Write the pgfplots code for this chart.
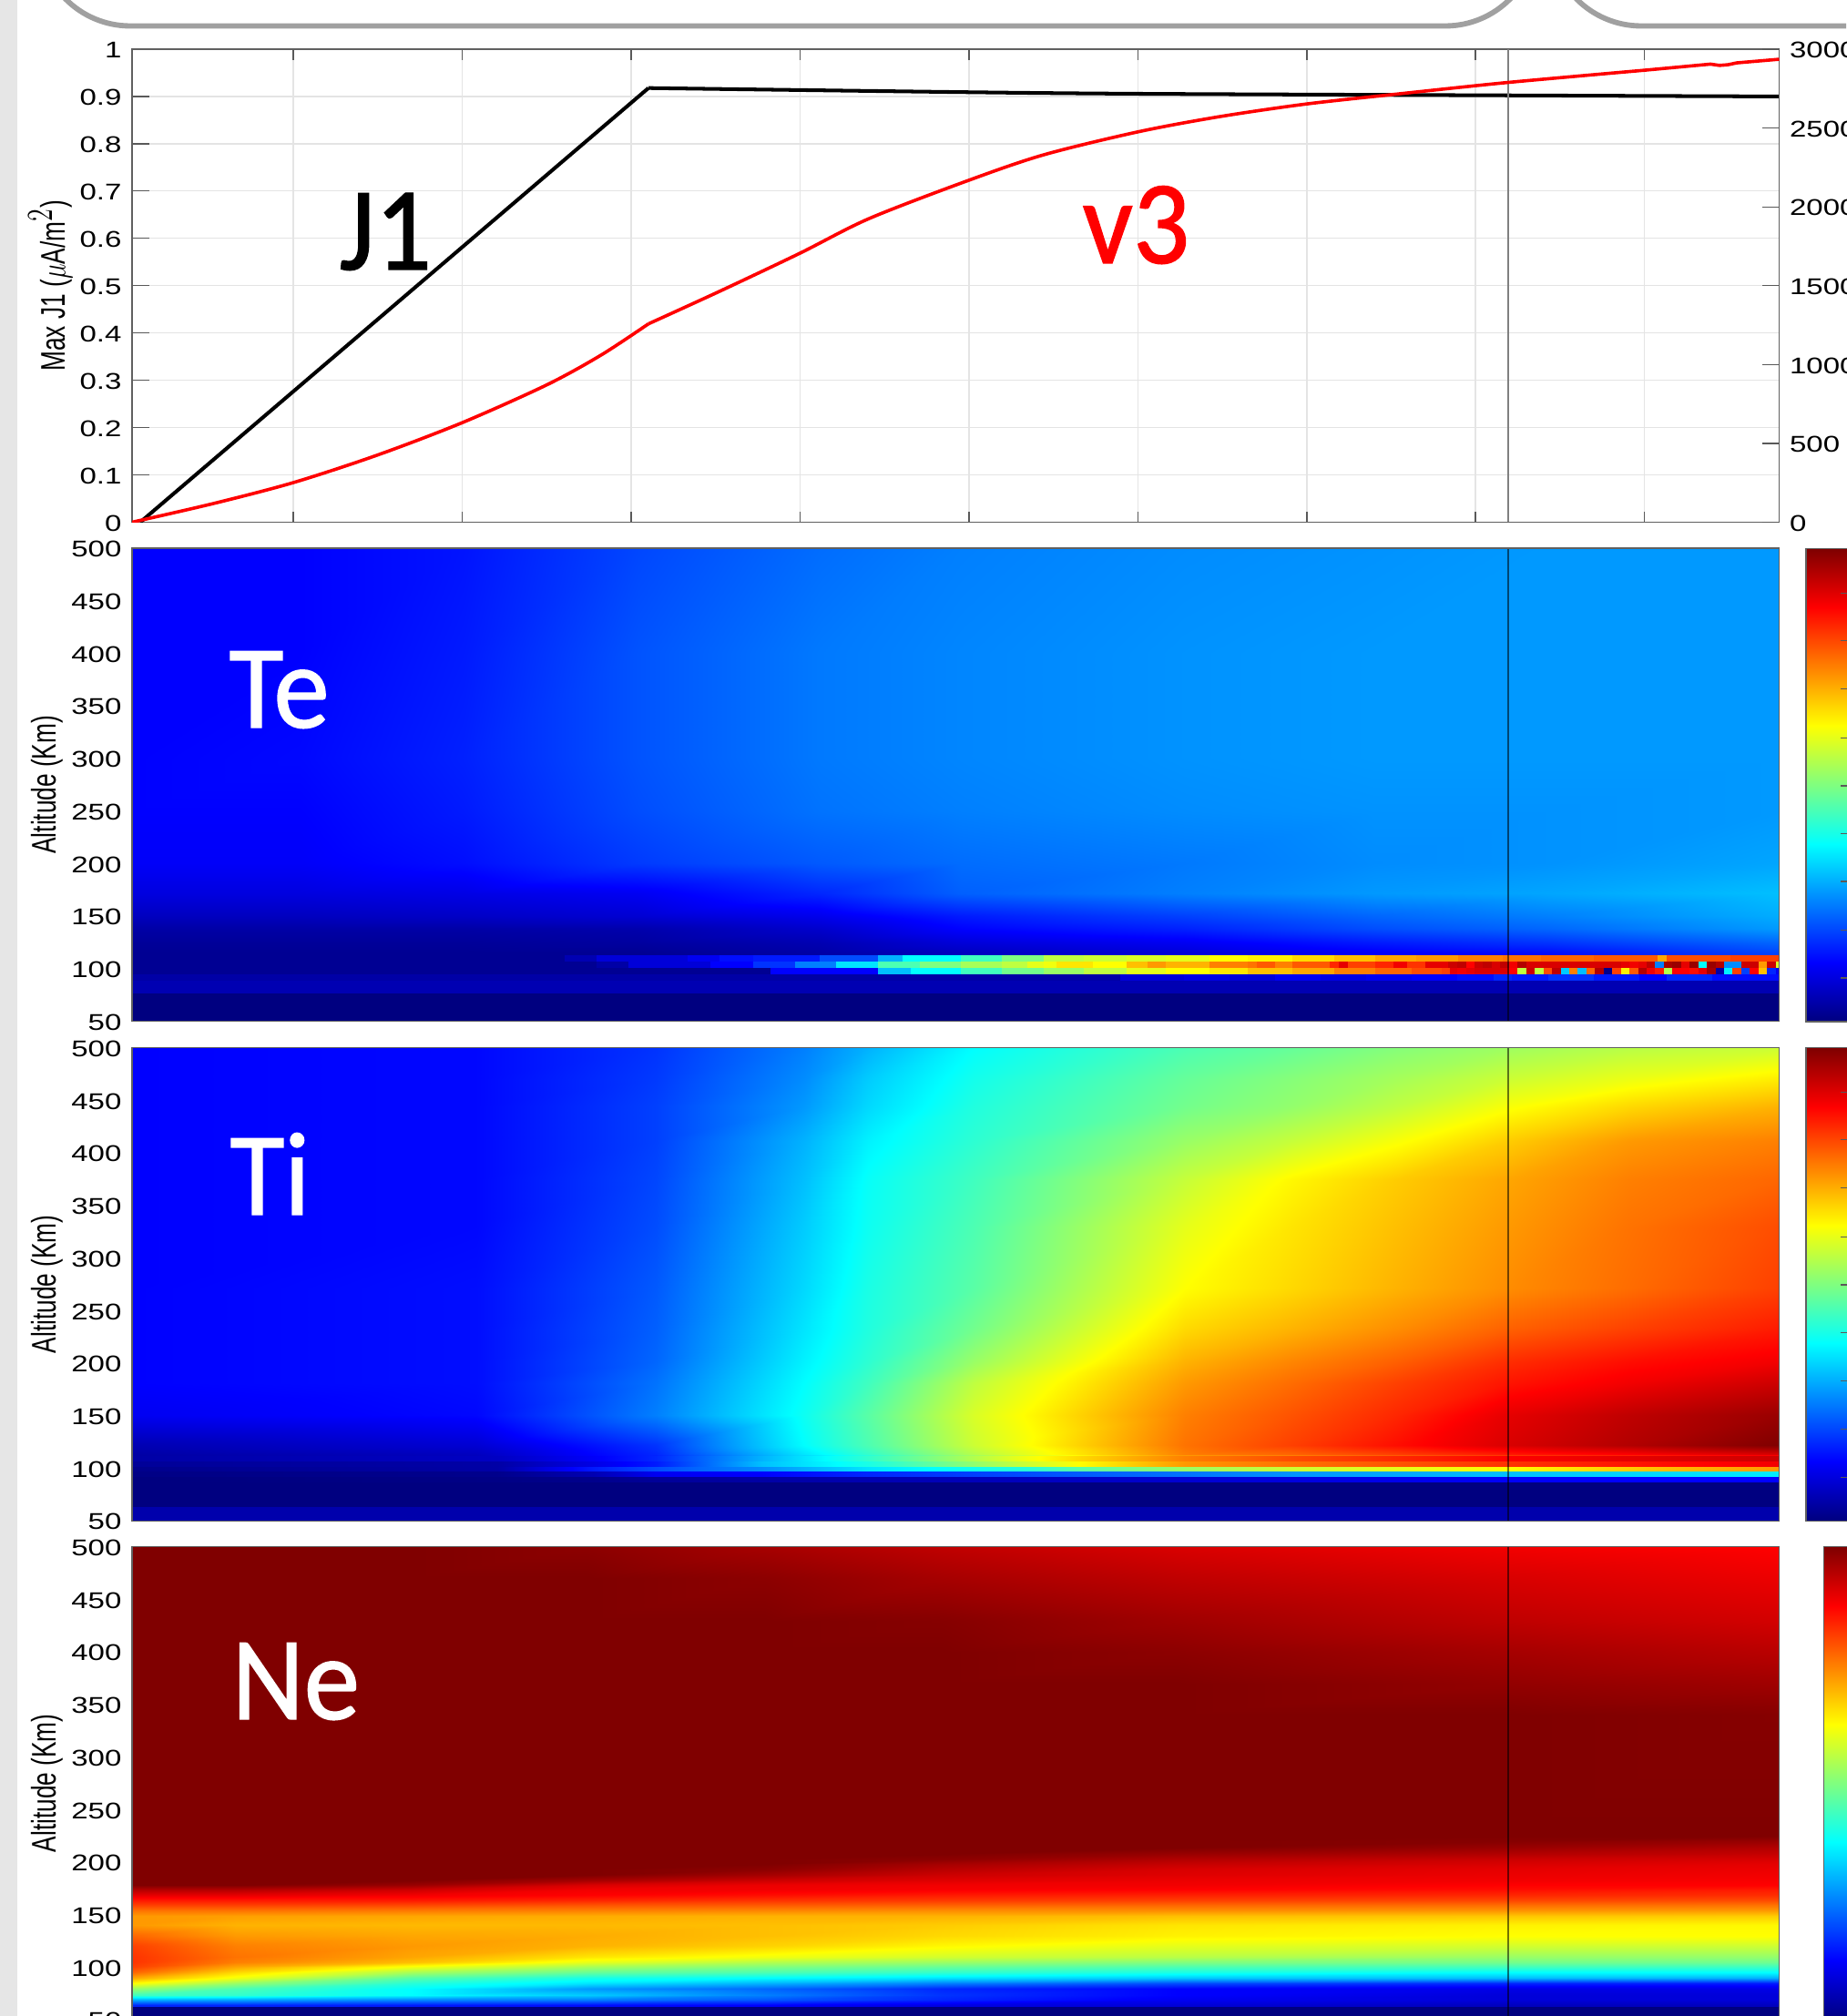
\documentclass[border=0pt]{standalone}
\usepackage{graphicx}
\usepackage{fontspec}
\usepackage{pgfplots}
\pgfplotsset{compat=1.18}
\setmainfont{Liberation Sans}
\newfontfamily\fTick[FakeStretch=1.32]{Liberation Sans}
\newfontfamily\fLabel[FakeStretch=0.7]{Liberation Sans}
\newfontfamily\fBig[FakeStretch=0.94,FakeBold=1]{Carlito}
\def\u{0.36pt}
\definecolor{boxgray}{HTML}{A0A0A0}
\definecolor{stripgray}{HTML}{E6E6E6}
\definecolor{gridgray}{HTML}{E4E4E4}
\definecolor{framegray}{HTML}{606060}
\pgfplotsset{
  colormap={jetm}{rgb(0cm)=(0,0,.5); rgb(1cm)=(0,0,1); rgb(3cm)=(0,1,1); rgb(5cm)=(1,1,0); rgb(7cm)=(1,0,0); rgb(8cm)=(.5,0,0)},
  base/.style={scale only axis, width=651.06pt, height=187.02pt, anchor=north west,
    xmin=145, xmax=1953.5,
    axis line style={framegray, line width=.5pt},
    tick style={black!65, line width=.45pt},
    yticklabel style={font=\fontsize{9}{11}\selectfont\fTick, inner sep=0pt, yshift=-.4pt, /pgf/number format/assume math mode=true, /pgf/number format/1000 sep={}},
    scaled y ticks=false},
  heat/.style={base, xtick=\empty, ymin=50, ymax=500, ytick={50,100,...,500}, major tick length=0pt,
    colormap name=jetm, point meta min=0, point meta max=80,
    yticklabel style={xshift=-3.96pt},
    ylabel={\fontsize{13.5}{16}\selectfont\fLabel Altitude (Km)},
    ylabel style={at={(axis description cs:-0.0515,0.5)}, anchor=center}, axis on top},
  sf/.style={surf, shader=interp, mesh/cols=#1, point meta=explicit, forget plot},
  band/.style={mesh, shader=flat corner, line width=2.5pt, line cap=butt, point meta=explicit, forget plot},
  vmark/.style={black, opacity=.55, line width=.55pt, forget plot},
  cbar/.style={scale only axis, height=187.02pt, anchor=north west, xmin=0, xmax=1, ymin=0, ymax=80,
    xtick=\empty, colormap name=jetm, point meta min=0, point meta max=80,
    axis line style={framegray, line width=.5pt}, yticklabels={}, axis on top,
    tick style={black!65, line width=.45pt}},
}
\begin{document}
\begin{tikzpicture}
\path[use as bounding box] (0,0) rectangle (2027*\u,-2214*\u);
\fill[white] (0,0) rectangle (2027*\u,-2214*\u);
\fill[stripgray] (0,0) rectangle (19*\u,-2214*\u);
\begin{scope}
\clip (0,0) rectangle (2027*\u,-2214*\u);
\draw[boxgray, line width=2.1pt, rounded corners=36pt] (43*\u,150*\u) rectangle (1687*\u,-28.5*\u);
\draw[boxgray, line width=2.1pt, rounded corners=36pt] (1702*\u,150*\u) rectangle (2400*\u,-28.5*\u);
\end{scope}

% ---------- top panel: x ticks and grid
\begin{axis}[base, at={(145*\u,-54*\u)}, ymin=0, ymax=1, ytick=\empty,
  xtick={322,507.5,693,878.5,1064,1249.5,1435,1620,1805.5}, xticklabels={}, major tick length=4.3pt,
  xmajorgrids, grid style={gridgray, line width=.45pt}]
\addplot[draw=none, forget plot] coordinates {(145,0)(1953,1)};
\end{axis}
% ---------- J1
\begin{axis}[base, at={(145*\u,-54*\u)}, ymin=0, ymax=1, xtick=\empty,
  ytick={0,0.1,...,1}, yticklabels={0,0.1,0.2,0.3,0.4,0.5,0.6,0.7,0.8,0.9,1}, ytick pos=left, major tick length=6.8pt,
  ymajorgrids, grid style={gridgray, line width=.45pt},
  yticklabel style={xshift=-3.96pt},
  ylabel={\fontsize{13.5}{16}\selectfont\fLabel Max J1 (\scalebox{0.7}[1]{$\mu$}A/m$^{\scalebox{0.7}[1]{$2$}}$)},
  ylabel style={at={(axis description cs:-0.0495,0.5)}, anchor=center}]
\addplot[black, line width=1.45pt, forget plot] coordinates {(154,0)(712,0.9178)};
\addplot[black, line width=1.45pt, smooth, forget plot] coordinates {(712,0.9178)(1063,0.909)(1249,0.9057)(1540,0.9032)(1953.5,0.900)};
\addplot[black!50, line width=.5pt, forget plot] coordinates {(1656,0)(1656,1)};
\end{axis}
% ---------- v3
\begin{axis}[base, at={(145*\u,-54*\u)}, ymin=0, ymax=3000, hide x axis, axis y line*=right,
  ytick={0,500,...,3000}, major tick length=6.8pt,
  yticklabel style={anchor=west, xshift=3.96pt}]
\addplot[red, line width=1.3pt, smooth, forget plot] coordinates {(145,0)(234,118)(322,251)(414,425)(507,630)(600,870)(660,1060)(712,1258)};
\addplot[red, line width=1.3pt, smooth, forget plot] coordinates {(712,1258)(790,1464)(878,1705)(954,1925)(1063,2167)(1146,2330)(1249,2475)(1338,2571)(1434,2652)(1540,2719)(1656,2789)(1805,2866)};
\addplot[red, line width=1.3pt, forget plot] coordinates {(1805,2866)(1878,2905)(1888,2897)(1897,2901)(1907,2913)(1953.5,2936)};
\end{axis}

% ---------- Te
\begin{axis}[heat, at={(145*\u,-602*\u)}]
\addplot[sf=10] table[x=x,y=y,meta=m,row sep=\\]{x y m\\
145 500 10\\ 330 500 10\\ 510 500 11.5\\ 700 500 15.5\\ 900 500 18.5\\ 1055 500 20\\ 1300 500 21\\ 1510 500 21.5\\ 1700 500 22\\ 1953 500 22\\
145 400 10\\ 330 400 10\\ 510 400 12\\ 700 400 16.5\\ 900 400 19.5\\ 1055 400 20.5\\ 1300 400 21.5\\ 1510 400 22\\ 1700 400 22\\ 1953 400 22\\
145 300 10\\ 330 300 10.5\\ 510 300 12.5\\ 700 300 16.5\\ 900 300 19.5\\ 1055 300 20.5\\ 1300 300 21.5\\ 1510 300 22\\ 1700 300 22\\ 1953 300 22\\
145 250 10\\ 330 250 10\\ 510 250 12\\ 700 250 16\\ 900 250 19\\ 1055 250 20\\ 1300 250 21\\ 1510 250 21.5\\ 1700 250 21.5\\ 1953 250 22\\
145 200 9.5\\ 330 200 9.5\\ 510 200 11\\ 700 200 14.5\\ 900 200 17\\ 1055 200 18.5\\ 1300 200 19.5\\ 1510 200 21\\ 1700 200 21.5\\ 1953 200 23\\
145 172 7.5\\ 330 172 7.5\\ 510 172 8\\ 700 172 9\\ 900 172 13\\ 1055 172 17.5\\ 1300 172 20\\ 1510 172 22\\ 1700 172 23\\ 1953 172 25\\
145 150 5\\ 330 150 5\\ 510 150 5.5\\ 700 150 6.5\\ 900 150 8.5\\ 1055 150 12\\ 1300 150 15\\ 1510 150 18\\ 1700 150 20\\ 1953 150 23.5\\
145 138 3\\ 330 138 3\\ 510 138 3\\ 700 138 3.5\\ 900 138 6\\ 1055 138 10\\ 1300 138 12.5\\ 1510 138 16\\ 1700 138 18\\ 1953 138 22\\
145 125 2\\ 330 125 2\\ 510 125 2\\ 700 125 2.5\\ 900 125 4\\ 1055 125 7\\ 1300 125 9\\ 1510 125 12\\ 1700 125 14\\ 1953 125 18\\
145 115 1.5\\ 330 115 1.5\\ 510 115 1.5\\ 700 115 1.5\\ 900 115 3\\ 1055 115 5\\ 1300 115 7\\ 1510 115 9.5\\ 1700 115 11\\ 1953 115 15.5\\
145 112 1.5\\ 330 112 1.5\\ 510 112 1.5\\ 700 112 1.5\\ 900 112 3\\ 1055 112 5\\ 1300 112 7\\ 1510 112 9\\ 1700 112 11\\ 1953 112 15\\
145 88.6 4\\ 330 88.6 4\\ 510 88.6 4\\ 700 88.6 4\\ 900 88.6 4\\ 1055 88.6 4\\ 1300 88.6 4\\ 1510 88.6 4\\ 1700 88.6 4\\ 1953 88.6 4\\
145 76.8 4\\ 330 76.8 4\\ 510 76.8 4\\ 700 76.8 4\\ 900 76.8 4\\ 1055 76.8 4\\ 1300 76.8 4\\ 1510 76.8 4\\ 1700 76.8 4\\ 1953 76.8 4\\
145 76.7 0\\ 330 76.7 0\\ 510 76.7 0\\ 700 76.7 0\\ 900 76.7 0\\ 1055 76.7 0\\ 1300 76.7 0\\ 1510 76.7 0\\ 1700 76.7 0\\ 1953 76.7 0\\
145 50 0\\ 330 50 0\\ 510 50 0\\ 700 50 0\\ 900 50 0\\ 1055 50 0\\ 1300 50 0\\ 1510 50 0\\ 1700 50 0\\ 1953 50 0\\
};
% bands
\addplot[band] table[x=x,y=y,meta=m,row sep=\\]{x y m\\
145 109.6 1.5\\ 620 109.6 4\\ 655 109.6 7\\ 755 109.6 9\\ 790 109.6 11\\ 827 109.6 12\\ 900 109.6 16\\ 964 109.6 24\\ 991 109.6 30\\ 1055 109.6 35\\ 1100 109.6 40\\ 1146 109.6 45\\ 1190 109.6 46\\ 1237 109.6 47\\ 1280 109.6 48\\ 1328 109.6 50\\ 1370 109.6 51\\ 1419 109.6 53\\ 1465 109.6 55\\ 1510 109.6 57\\ 1555 109.6 58\\ 1601 109.6 60\\ 1650 109.6 61\\ 1692 109.6 62\\ 1750 109.6 63\\ 1811 109.6 63\\ 1820 109.6 57\\ 1830 109.6 64\\ 1900 109.6 65\\ 1953.5 109.6 65\\
};
\addplot[band] table[x=x,y=y,meta=m,row sep=\\]{x y m\\
145 103.7 1.5\\ 655 103.7 3\\ 690 103.7 7\\ 780 103.7 10\\ 827 103.7 14\\ 873 103.7 20\\ 918 103.7 28\\ 964 103.7 36\\ 1010 103.7 40\\ 1055 103.7 43\\ 1100 103.7 45\\ 1128 103.7 48\\ 1146 103.7 49\\ 1160 103.7 52\\ 1182 103.7 52\\ 1200 103.7 50\\ 1237 103.7 55\\ 1260 103.7 58\\ 1280 103.7 56\\ 1328 103.7 60\\ 1370 103.7 61\\ 1380 103.7 63\\ 1400 103.7 60\\ 1419 103.7 63\\ 1460 103.7 67\\ 1470 103.7 72\\ 1480 103.7 65\\ 1510 103.7 67\\ 1530 103.7 71\\ 1545 103.7 66\\ 1565 103.7 72\\ 1590 103.7 74\\
1600 103.7 75\\ 1609.5 103.7 70\\ 1619 103.7 74\\ 1628 103.7 75\\ 1638 103.7 73\\ 1647 103.7 75\\ 1657 103.7 71\\ 1666 103.7 76\\ 1676 103.7 73\\ 1685 103.7 73\\ 1695 103.7 73\\ 1704 103.7 73\\ 1713.5 103.7 73\\ 1723 103.7 73\\ 1732 103.7 73\\ 1742 103.7 73\\ 1751 103.7 73\\ 1761 103.7 73\\ 1770 103.7 73\\ 1780 103.7 72\\ 1789 103.7 71\\ 1799 103.7 72\\ 1808 103.7 75\\ 1817 103.7 20\\ 1827 103.7 77\\ 1836 103.7 78\\ 1846 103.7 72\\ 1855 103.7 78\\ 1865 103.7 30\\ 1874 103.7 78\\ 1884 103.7 76\\ 1893 103.7 21\\ 1902 103.7 21\\ 1912 103.7 74\\ 1921 103.7 74\\ 1931 103.7 58\\ 1940 103.7 74\\ 1950 103.7 47\\ 1953.5 103.7 47\\
};
\addplot[band] table[x=x,y=y,meta=m,row sep=\\]{x y m\\
145 97.65 1.5\\ 846 97.65 10\\ 955 97.65 10\\ 964 97.65 25\\ 1000 97.65 30\\ 1055 97.65 35\\ 1100 97.65 39\\ 1146 97.65 42\\ 1190 97.65 45\\ 1237 97.65 48\\ 1280 97.65 50\\ 1328 97.65 52\\ 1370 97.65 55\\ 1419 97.65 57\\ 1465 97.65 60\\ 1510 97.65 62\\ 1550 97.65 64\\ 1583 97.65 65\\ 1592 97.65 72\\
1600 97.65 71\\ 1609.5 97.65 72\\ 1619 97.65 73\\ 1628 97.65 73\\ 1638 97.65 73\\ 1647 97.65 73\\ 1657 97.65 70\\ 1666 97.65 45\\ 1676 97.65 74\\ 1685 97.65 45\\ 1695 97.65 64\\ 1704 97.65 75\\ 1713.5 97.65 26\\ 1723 97.65 60\\ 1732 97.65 25\\ 1742 97.65 62\\ 1751 97.65 76\\ 1761 97.65 1\\ 1770 97.65 65\\ 1780 97.65 51\\ 1789 97.65 63\\ 1799 97.65 76\\ 1808 97.65 71\\ 1817 97.65 68\\ 1827 97.65 44\\ 1836 97.65 70\\ 1846 97.65 70\\ 1855 97.65 69\\ 1865 97.65 72\\ 1874 97.65 77\\ 1884 97.65 3\\ 1893 97.65 29\\ 1902 97.65 65\\ 1912 97.65 15\\ 1921 97.65 70\\ 1931 97.65 55\\ 1940 97.65 13\\ 1950 97.65 9\\ 1953.5 97.65 9\\
};
\addplot[band] table[x=x,y=y,meta=m,row sep=\\]{x y m\\
145 91.55 3\\ 1230 91.55 7\\ 1300 91.55 8\\ 1350 91.55 7\\ 1400 91.55 9\\ 1450 91.55 8\\ 1500 91.55 9\\ 1550 91.55 10\\ 1600 91.55 11\\ 1640 91.55 13\\ 1660 91.55 12\\ 1700 91.55 14\\ 1750 91.55 12\\ 1800 91.55 10\\ 1830 91.55 13\\ 1880 91.55 11\\ 1953.5 91.55 14\\
};
\addplot[vmark] coordinates {(1656,50)(1656,500)};
\end{axis}

% ---------- Ti
\begin{axis}[heat, at={(145*\u,-1150.7*\u)}]
\addplot[sf=12] table[x=x,y=y,meta=m,row sep=\\]{x y m\\
145 500 10\\ 523 500 10.5\\ 720 500 14\\ 883 500 20\\ 953 500 24\\ 1069 500 30\\ 1301 500 36\\ 1417 500 38\\ 1533 500 40.5\\ 1656 500 42.5\\ 1788 500 44.5\\ 1953 500 46\\
145 470 10\\ 523 470 10.5\\ 720 470 14.5\\ 883 470 21\\ 953 470 26\\ 1069 470 31.5\\ 1301 470 38\\ 1417 470 40.5\\ 1533 470 43\\ 1656 470 46\\ 1788 470 48.5\\ 1953 470 51.5\\
145 444 10\\ 523 444 10.5\\ 720 444 15\\ 883 444 22\\ 953 444 27\\ 1069 444 32.5\\ 1301 444 39\\ 1417 444 41.5\\ 1533 444 45\\ 1656 444 49.5\\ 1788 444 53\\ 1953 444 56\\
145 411 10\\ 523 411 10.5\\ 720 411 15\\ 883 411 24\\ 953 411 29\\ 1069 411 33.5\\ 1301 411 42\\ 1417 411 45.5\\ 1533 411 49.5\\ 1656 411 54\\ 1788 411 58\\ 1953 411 60\\
145 375 10\\ 523 375 10.5\\ 720 375 15.5\\ 883 375 25\\ 953 375 30.5\\ 1069 375 35\\ 1301 375 45.5\\ 1417 375 50.5\\ 1533 375 54\\ 1656 375 57\\ 1788 375 60\\ 1953 375 62\\
145 330 10\\ 523 330 10.5\\ 720 330 16\\ 883 330 26\\ 953 330 31\\ 1069 330 36\\ 1301 330 48\\ 1417 330 52\\ 1533 330 55\\ 1656 330 58\\ 1788 330 61\\ 1953 330 64\\
145 271 10\\ 523 271 11\\ 720 271 17\\ 883 271 27\\ 953 271 32\\ 1069 271 37\\ 1301 271 50\\ 1417 271 53\\ 1533 271 56\\ 1656 271 59\\ 1788 271 61.5\\ 1953 271 65\\
145 232 10\\ 523 232 11\\ 720 232 17.5\\ 883 232 28\\ 953 232 32.5\\ 1069 232 39\\ 1301 232 53\\ 1417 232 56\\ 1533 232 59\\ 1656 232 62.5\\ 1788 232 65\\ 1953 232 68\\
145 202 10\\ 523 202 11\\ 720 202 18\\ 883 202 29\\ 953 202 33.5\\ 1069 202 42\\ 1301 202 56\\ 1417 202 59.5\\ 1533 202 62.5\\ 1656 202 66.5\\ 1788 202 69\\ 1953 202 71\\
145 181 10\\ 523 181 11\\ 720 181 19\\ 883 181 30\\ 953 181 35\\ 1069 181 45\\ 1301 181 58\\ 1417 181 61.5\\ 1533 181 65\\ 1656 181 68.5\\ 1788 181 71\\ 1953 181 74\\
145 151 9\\ 523 151 10.5\\ 720 151 20\\ 883 151 31\\ 953 151 37\\ 1069 151 47\\ 1301 151 60\\ 1417 151 63.5\\ 1533 151 67\\ 1656 151 72\\ 1788 151 75\\ 1953 151 78\\
145 122 4\\ 523 122 6.5\\ 720 122 14\\ 883 122 30\\ 953 122 36\\ 1069 122 46\\ 1301 122 61\\ 1417 122 65\\ 1533 122 69\\ 1656 122 73\\ 1788 122 76\\ 1953 122 80\\
145 113 3\\ 523 113 5\\ 720 113 13\\ 883 113 28\\ 953 113 34\\ 1069 113 44\\ 1301 113 60\\ 1417 113 62\\ 1533 113 65\\ 1656 113 68\\ 1788 113 70\\ 1953 113 73\\
145 87 0\\ 523 87 0\\ 720 87 0\\ 883 87 0\\ 953 87 0\\ 1069 87 0\\ 1301 87 0\\ 1417 87 0\\ 1533 87 0\\ 1656 87 0\\ 1788 87 0\\ 1953 87 0\\
145 63 0\\ 523 63 0\\ 720 63 0\\ 883 63 0\\ 953 63 0\\ 1069 63 0\\ 1301 63 0\\ 1417 63 0\\ 1533 63 0\\ 1656 63 0\\ 1788 63 0\\ 1953 63 0\\
145 62.9 3.5\\ 523 62.9 3.5\\ 720 62.9 3.5\\ 883 62.9 3.5\\ 953 62.9 3.5\\ 1069 62.9 3.5\\ 1301 62.9 3.5\\ 1417 62.9 3.5\\ 1533 62.9 3.5\\ 1656 62.9 3.5\\ 1788 62.9 3.5\\ 1953 62.9 3.5\\
145 50 3.5\\ 523 50 3.5\\ 720 50 3.5\\ 883 50 3.5\\ 953 50 3.5\\ 1069 50 3.5\\ 1301 50 3.5\\ 1417 50 3.5\\ 1533 50 3.5\\ 1656 50 3.5\\ 1788 50 3.5\\ 1953 50 3.5\\
};
\addplot[sf=13] table[x=x,y=y,meta=m,row sep=\\]{x y m\\
145 111.6 3\\ 546 111.6 5.3\\ 651 111.6 9.5\\ 720 111.6 13\\ 836 111.6 24\\ 953 111.6 34\\ 1127 111.6 49\\ 1185 111.6 53\\ 1301 111.6 60\\ 1417 111.6 64\\ 1656 111.6 70\\ 1823 111.6 72.5\\ 1953.5 111.6 74\\
145 106.5 3\\ 546 106.5 5.3\\ 651 106.5 9.5\\ 720 106.5 13\\ 836 106.5 24\\ 953 106.5 34\\ 1127 106.5 49\\ 1185 106.5 53\\ 1301 106.5 60\\ 1417 106.5 64\\ 1656 106.5 70\\ 1823 106.5 72.5\\ 1953.5 106.5 74\\
145 106.4 2\\ 546 106.4 3\\ 651 106.4 8\\ 720 106.4 12\\ 836 106.4 25\\ 953 106.4 32\\ 1127 106.4 46\\ 1185 106.4 50\\ 1301 106.4 58\\ 1417 106.4 61\\ 1656 106.4 66\\ 1823 106.4 69\\ 1953.5 106.4 71\\
145 101.5 2\\ 546 101.5 3\\ 651 101.5 8\\ 720 101.5 12\\ 836 101.5 25\\ 953 101.5 32\\ 1127 101.5 46\\ 1185 101.5 50\\ 1301 101.5 58\\ 1417 101.5 61\\ 1656 101.5 66\\ 1823 101.5 69\\ 1953.5 101.5 71\\
145 101.4 1\\ 546 101.4 3\\ 651 101.4 12\\ 720 101.4 16\\ 836 101.4 21\\ 953 101.4 28\\ 1127 101.4 33\\ 1185 101.4 37\\ 1301 101.4 42\\ 1417 101.4 46\\ 1656 101.4 50\\ 1823 101.4 55\\ 1953.5 101.4 58\\
145 96.7 1\\ 546 96.7 3\\ 651 96.7 12\\ 720 96.7 16\\ 836 96.7 21\\ 953 96.7 28\\ 1127 96.7 33\\ 1185 96.7 37\\ 1301 96.7 42\\ 1417 96.7 46\\ 1656 96.7 50\\ 1823 96.7 55\\ 1953.5 96.7 58\\
145 96.6 0.5\\ 546 96.6 1\\ 651 96.6 4\\ 720 96.6 9\\ 836 96.6 10\\ 953 96.6 13\\ 1127 96.6 16\\ 1185 96.6 17\\ 1301 96.6 19\\ 1417 96.6 21.5\\ 1656 96.6 25\\ 1823 96.6 27\\ 1953.5 96.6 28.5\\
145 92 0.5\\ 546 92 1\\ 651 92 4\\ 720 92 9\\ 836 92 10\\ 953 92 13\\ 1127 92 16\\ 1185 92 17\\ 1301 92 19\\ 1417 92 21.5\\ 1656 92 25\\ 1823 92 27\\ 1953.5 92 28.5\\
145 91.9 0\\ 546 91.9 0.5\\ 651 91.9 1\\ 720 91.9 2\\ 836 91.9 3\\ 953 91.9 4\\ 1127 91.9 5\\ 1185 91.9 5.5\\ 1301 91.9 6.5\\ 1417 91.9 7.5\\ 1656 91.9 9.5\\ 1823 91.9 10\\ 1953.5 91.9 10\\
145 87 0\\ 546 87 0.5\\ 651 87 1\\ 720 87 2\\ 836 87 3\\ 953 87 4\\ 1127 87 5\\ 1185 87 5.5\\ 1301 87 6.5\\ 1417 87 7.5\\ 1656 87 9.5\\ 1823 87 10\\ 1953.5 87 10\\
};
\addplot[vmark] coordinates {(1656,50)(1656,500)};
\end{axis}

% ---------- Ne
\begin{axis}[heat, at={(145*\u,-1698.7*\u)}]
\addplot[sf=9] table[x=x,y=y,meta=m,row sep=\\]{x y m\\
145 500 80\\ 259 500 80\\ 452 500 80\\ 646 500 79\\ 840 500 77\\ 1034 500 75\\ 1293 500 73\\ 1657 500 71\\ 1953.5 500 70\\
145 470 80\\ 259 470 80\\ 452 470 80\\ 646 470 80\\ 840 470 79\\ 1034 470 77\\ 1293 470 75\\ 1657 470 73\\ 1953.5 470 71.5\\
145 430 80\\ 259 430 80\\ 452 430 80\\ 646 430 80\\ 840 430 80\\ 1034 430 79.5\\ 1293 430 77.5\\ 1657 430 75\\ 1953.5 430 73.5\\
145 400 80\\ 259 400 80\\ 452 400 80\\ 646 400 80\\ 840 400 80\\ 1034 400 80\\ 1293 400 79\\ 1657 400 77\\ 1953.5 400 75.5\\
145 370 80\\ 259 370 80\\ 452 370 80\\ 646 370 80\\ 840 370 80\\ 1034 370 80\\ 1293 370 80\\ 1657 370 78.5\\ 1953.5 370 77.5\\
145 340 80\\ 259 340 80\\ 452 340 80\\ 646 340 80\\ 840 340 80\\ 1034 340 80\\ 1293 340 80\\ 1657 340 80\\ 1953.5 340 79.5\\
145 225 80\\ 259 225 80\\ 452 225 80\\ 646 225 80\\ 840 225 80\\ 1034 225 80\\ 1293 225 80\\ 1657 225 80\\ 1953.5 225 80\\
145 220 80\\ 259 220 80\\ 452 220 80\\ 646 220 80\\ 840 220 80\\ 1034 220 80\\ 1293 220 80\\ 1657 220 79.5\\ 1953.5 220 78\\
145 214 80\\ 259 214 80\\ 452 214 80\\ 646 214 80\\ 840 214 80\\ 1034 214 80\\ 1293 214 80\\ 1657 214 78\\ 1953.5 214 76\\
145 208 80\\ 259 208 80\\ 452 208 80\\ 646 208 80\\ 840 208 80\\ 1034 208 80\\ 1293 208 78\\ 1657 208 76\\ 1953.5 208 74.5\\
145 203 80\\ 259 203 80\\ 452 203 80\\ 646 203 80\\ 840 203 80\\ 1034 203 79\\ 1293 203 76\\ 1657 203 74\\ 1953.5 203 73\\
145 198 80\\ 259 198 80\\ 452 198 80\\ 646 198 80\\ 840 198 80\\ 1034 198 77\\ 1293 198 74.5\\ 1657 198 73\\ 1953.5 198 72\\
145 193 80\\ 259 193 80\\ 452 193 80\\ 646 193 80\\ 840 193 79\\ 1034 193 75.5\\ 1293 193 73\\ 1657 193 72\\ 1953.5 193 71.5\\
145 188 80\\ 259 188 80\\ 452 188 80\\ 646 188 80\\ 840 188 77\\ 1034 188 74\\ 1293 188 72.5\\ 1657 188 71.5\\ 1953.5 188 71\\
145 183 80\\ 259 183 80\\ 452 183 80\\ 646 183 77\\ 840 183 74\\ 1034 183 72.5\\ 1293 183 71.5\\ 1657 183 71\\ 1953.5 183 70.5\\
145 178 80\\ 259 178 80\\ 452 178 78\\ 646 178 73\\ 840 178 71.5\\ 1034 178 71\\ 1293 178 71\\ 1657 178 70\\ 1953.5 178 70\\
145 174 76\\ 259 174 76\\ 452 174 74\\ 646 174 71\\ 840 174 71\\ 1034 174 70.5\\ 1293 174 70\\ 1657 174 69\\ 1953.5 174 68\\
145 169 72\\ 259 169 72\\ 452 169 71\\ 646 169 70\\ 840 169 69\\ 1034 169 68\\ 1293 169 67.5\\ 1657 169 67\\ 1953.5 169 66.5\\
145 164 68\\ 259 164 68\\ 452 164 68\\ 646 164 67\\ 840 164 66\\ 1034 164 65.5\\ 1293 164 65\\ 1657 164 64.5\\ 1953.5 164 64\\
145 159 65\\ 259 159 65\\ 452 159 64.5\\ 646 159 63.5\\ 840 159 63\\ 1034 159 62.5\\ 1293 159 62\\ 1657 159 61.5\\ 1953.5 159 61\\
145 154 61\\ 259 154 61\\ 452 154 60.5\\ 646 154 60\\ 840 154 59.5\\ 1034 154 59\\ 1293 154 59\\ 1657 154 58.5\\ 1953.5 154 58\\
145 149 58\\ 259 149 57.5\\ 452 149 57\\ 646 149 56.5\\ 840 149 56\\ 1034 149 56\\ 1293 149 55\\ 1657 149 54.5\\ 1953.5 149 54\\
145 140 58\\ 259 140 56\\ 452 140 55.5\\ 646 140 55.5\\ 840 140 55\\ 1034 140 54\\ 1293 140 52\\ 1657 140 51\\ 1953.5 140 50.5\\
145 130 62\\ 259 130 58\\ 452 130 57\\ 646 130 56.5\\ 840 130 55\\ 1034 130 53\\ 1293 130 51\\ 1657 130 50\\ 1953.5 130 50\\
145 120 65\\ 259 120 60\\ 452 120 58\\ 646 120 56\\ 840 120 53.5\\ 1034 120 50.5\\ 1293 120 48\\ 1657 120 46.5\\ 1953.5 120 46\\
145 110 66\\ 259 110 61\\ 452 110 57\\ 646 110 52\\ 840 110 49\\ 1034 110 46.5\\ 1293 110 44.5\\ 1657 110 42\\ 1953.5 110 41.5\\
145 105 66\\ 259 105 60\\ 452 105 55\\ 646 105 48\\ 840 105 44\\ 1034 105 42\\ 1293 105 40\\ 1657 105 39\\ 1953.5 105 38.5\\
145 100 65\\ 259 100 57\\ 452 100 49\\ 646 100 43\\ 840 100 40\\ 1034 100 38\\ 1293 100 36\\ 1657 100 35\\ 1953.5 100 34.5\\
145 95 62\\ 259 95 53\\ 452 95 43\\ 646 95 38\\ 840 95 36\\ 1034 95 34\\ 1293 95 32\\ 1657 95 30\\ 1953.5 95 30\\
145 90 57\\ 259 90 49\\ 452 90 37\\ 646 90 32\\ 840 90 30\\ 1034 90 28\\ 1293 90 26\\ 1657 90 25\\ 1953.5 90 24\\
145 85 50\\ 259 85 42\\ 452 85 33\\ 646 85 28\\ 840 85 24\\ 1034 85 20\\ 1293 85 16\\ 1657 85 13\\ 1953.5 85 12\\
145 80 42\\ 259 80 36\\ 452 80 30\\ 646 80 22\\ 840 80 18\\ 1034 80 13\\ 1293 80 10\\ 1657 80 8\\ 1953.5 80 8\\
145 74 35\\ 259 74 34\\ 452 74 30\\ 646 74 26\\ 840 74 20\\ 1034 74 14\\ 1293 74 10\\ 1657 74 7\\ 1953.5 74 7\\
145 69 24\\ 259 69 23\\ 452 69 21\\ 646 69 20\\ 840 69 17\\ 1034 69 13\\ 1293 69 9\\ 1657 69 7\\ 1953.5 69 7\\
145 64 13\\ 259 64 13\\ 452 64 12\\ 646 64 11\\ 840 64 10\\ 1034 64 8\\ 1293 64 7\\ 1657 64 5\\ 1953.5 64 5\\
145 62 13\\ 259 62 13\\ 452 62 12\\ 646 62 11\\ 840 62 10\\ 1034 62 8\\ 1293 62 7\\ 1657 62 5\\ 1953.5 62 5\\
145 61.9 0\\ 259 61.9 0\\ 452 61.9 0\\ 646 61.9 0\\ 840 61.9 0\\ 1034 61.9 0\\ 1293 61.9 0\\ 1657 61.9 0\\ 1953.5 61.9 0\\
145 50 0\\ 259 50 0\\ 452 50 0\\ 646 50 0\\ 840 50 0\\ 1034 50 0\\ 1293 50 0\\ 1657 50 0\\ 1953.5 50 0\\
};
\addplot[vmark] coordinates {(1656,50)(1656,500)};
\end{axis}

% ---------- colour bars
\begin{axis}[cbar, width=28.8pt, at={(1983*\u,-602.5*\u)}, ytick={7.4,15.5,23.7,31.8,39.9,48,56.3,64.5,72.5}, ytick pos=right, major tick length=15.1pt]
\addplot[sf=2] table[x=x,y=y,meta=m,row sep=\\]{x y m\\ 0 0 0\\ 1 0 0\\ 0 10 10\\ 1 10 10\\ 0 30 30\\ 1 30 30\\ 0 50 50\\ 1 50 50\\ 0 70 70\\ 1 70 70\\ 0 80 80\\ 1 80 80\\};
\end{axis}
\begin{axis}[cbar, width=28.8pt, at={(1983*\u,-1150.7*\u)}, ytick={7.4,15.5,23.7,31.8,39.9,48,56.3,64.5,72.5}, ytick pos=right, major tick length=15.1pt]
\addplot[sf=2] table[x=x,y=y,meta=m,row sep=\\]{x y m\\ 0 0 0\\ 1 0 0\\ 0 10 10\\ 1 10 10\\ 0 30 30\\ 1 30 30\\ 0 50 50\\ 1 50 50\\ 0 70 70\\ 1 70 70\\ 0 80 80\\ 1 80 80\\};
\end{axis}
\begin{axis}[cbar, width=28.8pt, at={(2002.7*\u,-1698.7*\u)}, ytick=\empty]
\addplot[sf=2] table[x=x,y=y,meta=m,row sep=\\]{x y m\\ 0 0 0\\ 1 0 0\\ 0 10 10\\ 1 10 10\\ 0 30 30\\ 1 30 30\\ 0 50 50\\ 1 50 50\\ 0 70 70\\ 1 70 70\\ 0 80 80\\ 1 80 80\\};
\end{axis}

% ---------- big labels
\node[anchor=base west, inner sep=0pt, font=\fontsize{47}{50}\selectfont\fBig, black] at (372*\u,-296*\u) {J1};
\node[anchor=base west, inner sep=0pt, font=\fontsize{47}{50}\selectfont\fBig, red] at (1188*\u,-289*\u) {v3};
\node[anchor=base west, inner sep=0pt, font=\fontsize{47}{50}\selectfont\fBig, white] at (251*\u,-799*\u) {Te};
\node[anchor=base west, inner sep=0pt, font=\fontsize{47}{50}\selectfont\fBig, white] at (252*\u,-1334*\u) {Ti};
\node[anchor=base west, inner sep=0pt, font=\fontsize{47}{50}\selectfont\fBig, white] at (254*\u,-1888*\u) {Ne};
\end{tikzpicture}
\end{document}
